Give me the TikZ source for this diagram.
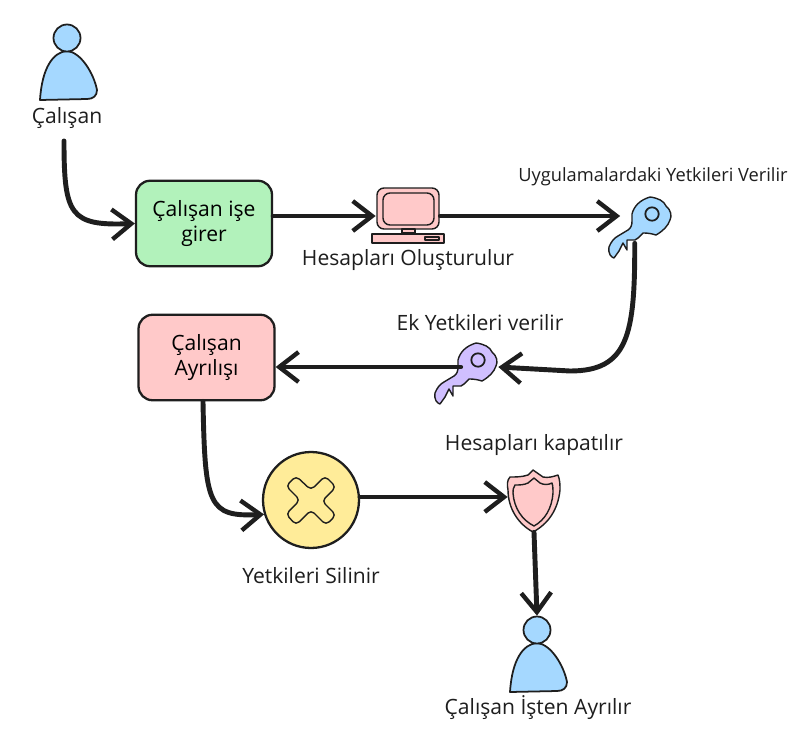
\documentclass[tikz,border=0pt]{standalone}
\usepackage{fontspec}
\setmainfont{Open Sans}
\usetikzlibrary{arrows.meta}
\definecolor{personblue}{HTML}{A5D8FF}
\definecolor{startgreen}{HTML}{B2F2BB}
\definecolor{softred}{HTML}{FFC9C9}
\definecolor{softyellow}{HTML}{FFEC99}
\definecolor{softpurple}{HTML}{D0BFFF}
\definecolor{inkblack}{HTML}{1E1E1E}
\tikzset{
	processbox/.style={draw=inkblack, line width=1.3pt, rounded corners=8pt, minimum width=2.72cm, minimum height=1.71cm, align=center, inner sep=0pt, font=\fontsize{12}{14.5}\selectfont},
	labeltext/.style={text=inkblack, inner sep=0pt, font=\fontsize{12}{14}\selectfont},
	smalltext/.style={text=inkblack, inner sep=0pt, font=\fontsize{10.4}{12}\selectfont},
	icon/.style={inner sep=0pt, draw=none},
	flowline/.style={draw=inkblack, line width=2.8pt, line cap=round, -{Straight Barb[length=11pt, width=17pt, line width=2.5pt]}},
	sketch/.style={draw=inkblack, line width=0.8pt, line join=round},
	person/.pic={
		\draw[sketch, line width=1pt, fill=personblue] (-27,62) .. controls (-25,30) and (-14,14) .. (0,13) .. controls (14,14) and (27,36) .. (30,52) .. controls (30,58) and (26,61) .. (20,61) -- cycle;
	},
	keyicon/.pic={
		\draw[sketch, fill=#1] (-2,-17) .. controls (6,-16) and (12,-13) .. (14,-8) .. controls (19,-4) and (20,2) .. (18,6) .. controls (16,12) and (11,17) .. (4,21) .. controls (-2,19) and (-7,19) .. (-9,19) -- (-14,24) -- (-17,26) -- (-25,26) -- (-25,36) -- (-29,29) -- (-33,37) -- (-38,44) .. controls (-41,43) and (-44,40) .. (-43,33) .. controls (-41,28) and (-38,24) .. (-34,22) -- (-24,16) .. controls (-21,14) and (-20,11) .. (-20,7) -- (-20,0) .. controls (-18,-8) and (-12,-14) .. (-2,-17) -- cycle;
		\draw[sketch, line width=1pt] (0,0) circle[radius=6.7];
	},
}
\begin{document}
\begin{tikzpicture}[x=0.02cm, y=-0.02cm]
	\useasboundingbox[fill=white] (0,0) rectangle (804,737);
	% top row
	\pic at (67,38) {person};
	\node[draw=inkblack, line width=1pt, fill=personblue, circle, minimum size=0.54cm, inner sep=0pt] (workerHead) at (67,38) {};
	\node[labeltext] (workerText) at (67,118) {Çalışan};
	\coordinate (workerOut) at (64,141);
	\node[processbox, fill=startgreen] (startBox) at (204,223.5) {Çalışan işe\\girer};
	\node[icon, minimum width=1.28cm, minimum height=1.12cm] (pcIcon) at (408,216) {};
	\draw[sketch, fill=softred, rounded corners=4pt] (377,188) rectangle (439,229);
	\draw[sketch, rounded corners=4pt] (383,193) rectangle (434,225);
	\draw[sketch, fill=softred] (402,229) rectangle (415,233);
	\draw[sketch, fill=softred] (372,234) rectangle (444,243);
	\draw[sketch, fill=softred] (425,237) rectangle (439,240);
	\node[labeltext] (pcText) at (408,260) {Hesapları Oluşturulur};
	\pic at (652,214) {keyicon={personblue}};
	\node[icon, minimum width=0.78cm, minimum height=1.08cm] (blueKey) at (640,216) {};
	\node[smalltext] (blueKeyText) at (653,177) {Uygulamalardaki Yetkileri Verilir};
	% middle row
	\pic at (478,360) {keyicon={softpurple}};
	\node[icon, minimum width=0.74cm, minimum height=0.6cm] (purpleKey) at (479.5,367) {};
	\node[labeltext] (purpleKeyText) at (480,323) {Ek Yetkileri verilir};
	\node[processbox, fill=softred] (leaveBox) at (206.5,357.5) {Çalışan\\Ayrılışı};
	% bottom row
	\node[draw=inkblack, line width=1.3pt, fill=softyellow, circle, minimum size=1.92cm, inner sep=0pt] (deleteIcon) at (311,500) {};
	\draw[sketch, rounded corners=2.5pt] (286,486) -- (296,476) -- (311,490) -- (325,476) -- (336,487) -- (322,501) -- (336,515) -- (326,525) -- (311,510) -- (296,525) -- (286,514) -- (300,500) -- cycle;
	\node[labeltext] (deleteText) at (311,576) {Yetkileri Silinir};
	\draw[sketch, fill=softred] (533,470) -- (528,475) .. controls (522,477) and (516,477) .. (510,477) .. controls (507,480) and (507,485) .. (508,490) .. controls (508,508) and (518,524) .. (533,532) .. controls (548,524) and (558,510) .. (560,490) .. controls (560,485) and (560,480) .. (558,475) .. controls (552,477) and (548,478) .. (543,477) -- cycle;
	\draw[sketch] (534,478) -- (528,483) .. controls (524,485) and (519,485) .. (515,485) .. controls (513,488) and (513,490) .. (513,493) .. controls (514,508) and (522,520) .. (534,526) .. controls (545,520) and (552,508) .. (553,493) .. controls (553,490) and (553,486) .. (552,483) .. controls (548,485) and (544,485) .. (540,483) -- cycle;
	\node[icon, minimum width=1.04cm, minimum height=1.24cm] (shieldIcon) at (534,501) {};
	\node[labeltext] (shieldText) at (534,445) {Hesapları kapatılır};
	\pic at (537,630) {person};
	\node[draw=inkblack, line width=1pt, fill=personblue, circle, minimum size=0.54cm, inner sep=0pt] (leaverHead) at (537,630) {};
	\node[labeltext] (leaverText) at (538,708) {Çalışan İşten Ayrılır};
	% connectors
	\draw[flowline] (workerOut) .. controls (64,215) and (70,226) .. (startBox.west);
	\draw[flowline] (startBox.east |- pcIcon.west) -- (pcIcon.west);
	\draw[flowline] (pcIcon.east) -- (blueKey.west);
	\draw[flowline] ([xshift=-3pt]blueKey.south) .. controls (635,335) and (628,371) .. (570,371) -- (purpleKey.east);
	\draw[flowline] (purpleKey.west) -- (leaveBox.east |- purpleKey.west);
	\draw[flowline] ([xshift=-2pt]leaveBox.south) .. controls (205,505) and (208,517) .. (deleteIcon.197);
	\draw[flowline] (deleteIcon.east |- 0,497) -- (shieldIcon.west |- 0,497);
	\draw[flowline] (shieldIcon.south) -- (leaverHead.north);
\end{tikzpicture}
\end{document}
